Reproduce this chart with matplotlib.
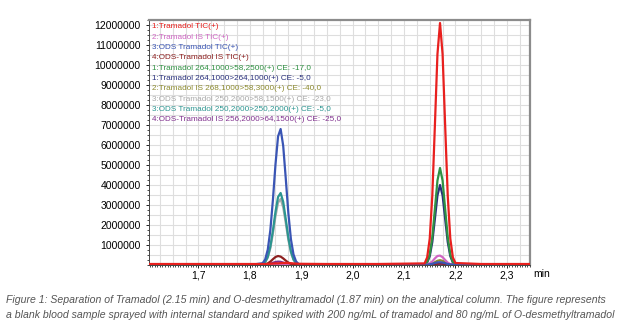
import matplotlib
matplotlib.use("Agg")
import matplotlib.pyplot as plt
from matplotlib.ticker import MultipleLocator, FuncFormatter

plt.rcParams['font.family'] = ['Liberation Sans', 'DejaVu Sans']

# retention time (min)
time = [1.60, 1.70, 1.80,
        1.825, 1.830, 1.835, 1.840, 1.845, 1.850, 1.855, 1.860, 1.865, 1.870, 1.875, 1.880, 1.885, 1.890, 1.895,
        1.95, 2.05,
        2.140, 2.145, 2.150, 2.155, 2.160, 2.165, 2.170, 2.175, 2.180, 2.185, 2.190, 2.195, 2.200,
        2.25, 2.35]

# intensities in millions of counts
tram_tic = [0.05, 0.05, 0.05,
            0.05, 0.05, 0.05, 0.06, 0.07, 0.08, 0.08, 0.09, 0.10, 0.10, 0.10, 0.09, 0.08, 0.07, 0.06,
            0.05, 0.05,
            0.08, 0.38, 1.32, 3.47, 6.96, 10.54, 12.10, 10.54, 6.96, 3.47, 1.32, 0.38, 0.10,
            0.05, 0.05]
tram_is_tic = [0, 0, 0,
               0, 0, 0, 0, 0, 0, 0, 0, 0, 0, 0, 0, 0, 0, 0,
               0, 0,
               0.00, 0.02, 0.08, 0.18, 0.33, 0.45, 0.47, 0.39, 0.25, 0.12, 0.04, 0.01, 0.00,
               0, 0]
ods_tic = [0, 0, 0,
           0.09, 0.28, 0.77, 1.74, 3.26, 5.03, 6.43, 6.80, 5.96, 4.32, 2.60, 1.29, 0.53, 0.18, 0.05,
           0, 0,
           0.00, 0.01, 0.03, 0.06, 0.10, 0.13, 0.14, 0.12, 0.09, 0.05, 0.02, 0.01, 0.00,
           0, 0]
ods_is_tic = [0, 0, 0,
              0.01, 0.03, 0.08, 0.17, 0.29, 0.40, 0.45, 0.42, 0.33, 0.22, 0.12, 0.06, 0.02, 0.01, 0.00,
              0, 0,
              0.00, 0.00, 0.01, 0.03, 0.05, 0.07, 0.08, 0.07, 0.05, 0.03, 0.01, 0.00, 0.00,
              0, 0]
tram_58 = [0, 0, 0,
           0, 0, 0, 0, 0, 0, 0, 0, 0, 0, 0, 0, 0, 0, 0,
           0, 0,
           0.03, 0.15, 0.53, 1.39, 2.79, 4.22, 4.85, 4.22, 2.79, 1.39, 0.53, 0.15, 0.03,
           0, 0]
tram_264 = [0, 0, 0,
            0, 0, 0, 0, 0, 0, 0, 0, 0, 0, 0, 0, 0, 0, 0,
            0, 0,
            0.03, 0.12, 0.44, 1.15, 2.30, 3.48, 4.00, 3.48, 2.30, 1.15, 0.44, 0.12, 0.03,
            0, 0]
tram_is_58 = [0, 0, 0,
              0, 0, 0, 0, 0, 0, 0, 0, 0, 0, 0, 0, 0, 0, 0,
              0, 0,
              0.00, 0.01, 0.03, 0.07, 0.14, 0.21, 0.24, 0.21, 0.14, 0.07, 0.03, 0.01, 0.00,
              0, 0]
ods_58 = [0, 0, 0,
          0.04, 0.14, 0.37, 0.84, 1.58, 2.44, 3.12, 3.30, 2.89, 2.10, 1.26, 0.63, 0.26, 0.09, 0.02,
          0, 0,
          0, 0, 0, 0, 0, 0, 0, 0, 0, 0, 0, 0, 0,
          0, 0]
ods_250 = [0, 0, 0,
           0.05, 0.15, 0.41, 0.92, 1.72, 2.66, 3.40, 3.60, 3.16, 2.29, 1.37, 0.68, 0.28, 0.09, 0.03,
           0, 0,
           0, 0, 0, 0, 0, 0, 0, 0, 0, 0, 0, 0, 0,
           0, 0]
ods_is_64 = [0, 0, 0,
             0.00, 0.01, 0.03, 0.06, 0.11, 0.15, 0.17, 0.16, 0.12, 0.08, 0.04, 0.02, 0.01, 0.00, 0.00,
             0, 0,
             0, 0, 0, 0, 0, 0, 0, 0, 0, 0, 0, 0, 0,
             0, 0]

labels = ["1:Tramadol TIC(+)",
          "2:Tramadol IS TIC(+)",
          "3:ODS Tramadol TIC(+)",
          "4:ODS-Tramadol IS TIC(+)",
          "1:Tramadol 264,1000>58,2500(+) CE: -17,0",
          "1:Tramadol 264,1000>264,1000(+) CE: -5,0",
          "2:Tramadol IS 268,1000>58,3000(+) CE: -40,0",
          "3:ODS Tramadol 250,2000>58,1500(+) CE: -23,0",
          "3:ODS Tramadol 250,2000>250,2000(+) CE: -5,0",
          "4:ODS-Tramadol IS 256,2000>64,1500(+) CE: -25,0"]
series = [tram_tic, tram_is_tic, ods_tic, ods_is_tic, tram_58,
          tram_264, tram_is_58, ods_58, ods_250, ods_is_64]
colors = ["#e8201e", "#d066c4", "#3a55b4", "#8e2020", "#2f9142",
          "#29307c", "#8c8a2e", "#a8a8a8", "#2b9590", "#80308e"]
# drawing order (back to front)
order = [7, 8, 6, 9, 5, 4, 1, 3, 2, 0]

fig = plt.figure(figsize=(6.3, 3.22), dpi=100)
ax = fig.add_axes([149/630, 1-265/322, 381/630, 245/322])

for i in order:
    ax.plot(time, [v*1e6 for v in series[i]], color=colors[i], lw=1.6,
            solid_joinstyle='round', zorder=3 + order.index(i)*0.1)

ax.set_xlim(1.604, 2.345)
ax.set_ylim(0, 12.25e6)

ax.xaxis.set_major_locator(MultipleLocator(0.1))
ax.xaxis.set_minor_locator(MultipleLocator(0.005))
ax.yaxis.set_minor_locator(MultipleLocator(2.5e5))
ax.set_yticks([v*1e6 for v in range(1, 13)])
ax.xaxis.set_major_formatter(FuncFormatter(lambda v, p: f"{v:.1f}".replace('.', ',')))
ax.yaxis.set_major_formatter(FuncFormatter(lambda v, p: f"{int(round(v))}"))

# fine grid
for gx in [1.6 + k*0.025 for k in range(1, 30)]:
    ax.axvline(gx, color="#dedede", lw=0.8, zorder=1)
for gy in [k*0.5e6 for k in range(1, 25)]:
    ax.axhline(gy, color="#dedede", lw=0.8, zorder=1)

ax.tick_params(axis='both', which='major', labelsize=7.5, length=2, width=0.6, direction='out')
ax.tick_params(axis='both', which='minor', length=1.5, width=0.5, direction='out')
ax.tick_params(axis='x', pad=2)
ax.tick_params(axis='y', pad=4)

for s in ['left', 'bottom']:
    ax.spines[s].set_color('#444444')
    ax.spines[s].set_linewidth(0.7)
for s in ['top', 'right']:
    ax.spines[s].set_color('#8c8c8c')
    ax.spines[s].set_linewidth(1.6)

fig.text(533/630, 1-274/322, "min", fontsize=7.5, ha='left', va='center')

for k, (lab, c) in enumerate(zip(labels, colors)):
    fig.text(152/630, 1-(27 + k*10.3)/322, lab, color=c, fontsize=5.9,
             va='center', ha='left', zorder=10)

caption = ("Figure 1: Separation of Tramadol (2.15 min) and O-desmethyltramadol (1.87 min) "
           "on the analytical column. The figure represents\n"
           "a blank blood sample sprayed with internal standard and spiked with 200 ng/mL "
           "of tramadol and 80 ng/mL of O-desmethyltramadol")
fig.text(6/630, 1-295/322, caption, fontsize=7.6, style='italic', color='#555555',
         ha='left', va='top', linespacing=1.6)

fig.savefig("out.png", dpi=100)
